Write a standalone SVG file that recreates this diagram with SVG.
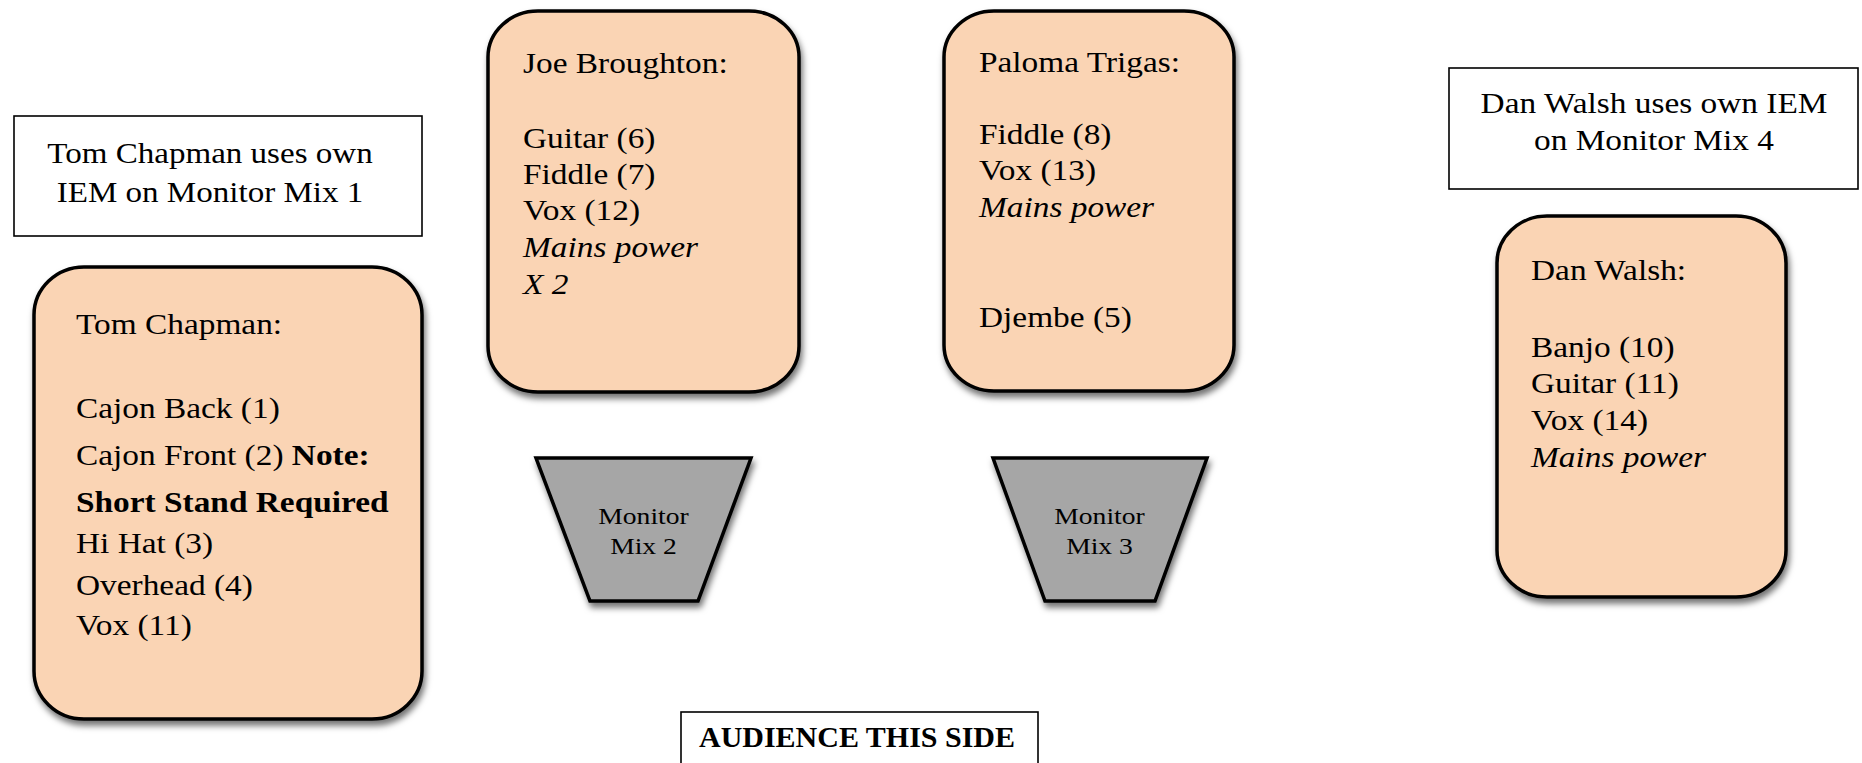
<svg xmlns="http://www.w3.org/2000/svg" width="1862" height="763" viewBox="0 0 1862 763">
<defs>
<filter id="sh" x="-10%" y="-10%" width="125%" height="125%">
<feDropShadow dx="2" dy="5" stdDeviation="3" flood-color="#000" flood-opacity="0.55"/>
</filter>
<style>
.box{fill:#FAD4B4;stroke:#000;stroke-width:3.5;filter:url(#sh)}
.mon{fill:#A6A6A6;stroke:#000;stroke-width:3.5;stroke-linejoin:miter;filter:url(#sh)}
.note{fill:#fff;stroke:#000;stroke-width:1.6}
text{font-family:"Liberation Serif","Times New Roman",serif;fill:#000}
.t{font-size:29px}
.i{font-style:italic}
.b{font-weight:bold}
.m{font-size:24px;text-anchor:middle}
.c{text-anchor:middle}
</style>
</defs>
<g id="connectors"></g>

<g id="note-tom">
<rect class="note" x="14" y="116" width="408" height="120"/>
<g transform="translate(210 0) scale(1.14 1)">
<text class="t c" x="0" y="163">Tom Chapman uses own</text>
<text class="t c" x="0" y="202">IEM on Monitor Mix 1</text>
</g>
</g>

<g id="tom">
<rect class="box" x="34" y="267" width="388" height="452" rx="50" ry="48"/>
<g transform="translate(76 0) scale(1.15 1)">
<text class="t" x="0" y="334">Tom Chapman:</text>
<text class="t" x="0" y="418">Cajon Back (1)</text>
<text class="t" x="0" y="465">Cajon Front (2) <tspan class="b">Note:</tspan></text>
<text class="t b" x="0" y="512">Short Stand Required</text>
<text class="t" x="0" y="553">Hi Hat (3)</text>
<text class="t" x="0" y="595">Overhead (4)</text>
<text class="t" x="0" y="635">Vox (11)</text>
</g>
</g>

<g id="joe">
<rect class="box" x="488" y="11" width="311" height="381" rx="50" ry="46"/>
<g transform="translate(523 0) scale(1.15 1)">
<text class="t" x="0" y="73">Joe Broughton:</text>
<text class="t" x="0" y="148">Guitar (6)</text>
<text class="t" x="0" y="184">Fiddle (7)</text>
<text class="t" x="0" y="220">Vox (12)</text>
<text class="t i" x="0" y="257">Mains power</text>
<text class="t i" x="0" y="294">X 2</text>
</g>
</g>

<g id="paloma">
<rect class="box" x="944" y="11" width="290" height="380" rx="50" ry="46"/>
<g transform="translate(979 0) scale(1.15 1)">
<text class="t" x="0" y="72">Paloma Trigas:</text>
<text class="t" x="0" y="144">Fiddle (8)</text>
<text class="t" x="0" y="180">Vox (13)</text>
<text class="t i" x="0" y="217">Mains power</text>
<text class="t" x="0" y="327">Djembe (5)</text>
</g>
</g>

<g id="note-dan">
<rect class="note" x="1449" y="68" width="409" height="121"/>
<g transform="translate(1654 0) scale(1.15 1)">
<text class="t c" x="0" y="113">Dan Walsh uses own IEM</text>
<text class="t c" x="0" y="150">on Monitor Mix 4</text>
</g>
</g>

<g id="dan">
<rect class="box" x="1497" y="216" width="289" height="381" rx="50" ry="47"/>
<g transform="translate(1531 0) scale(1.15 1)">
<text class="t" x="0" y="280">Dan Walsh:</text>
<text class="t" x="0" y="357">Banjo (10)</text>
<text class="t" x="0" y="393">Guitar (11)</text>
<text class="t" x="0" y="430">Vox (14)</text>
<text class="t i" x="0" y="467">Mains power</text>
</g>
</g>

<g id="monitor2">
<polygon class="mon" points="536,458 751,458 698,601 590,601"/>
<g transform="translate(643.5 0) scale(1.15 1)">
<text class="m" x="0" y="524">Monitor</text>
<text class="m" x="0" y="554">Mix 2</text>
</g>
</g>

<g id="monitor3">
<polygon class="mon" points="993,458 1207,458 1155,601 1045,601"/>
<g transform="translate(1099.5 0) scale(1.15 1)">
<text class="m" x="0" y="524">Monitor</text>
<text class="m" x="0" y="554">Mix 3</text>
</g>
</g>

<g id="audience">
<rect class="note" x="681" y="712" width="357" height="80"/>
<text class="b" x="699" y="747" style="font-size:29px" textLength="316" lengthAdjust="spacingAndGlyphs">AUDIENCE THIS SIDE</text>
</g>
</svg>
